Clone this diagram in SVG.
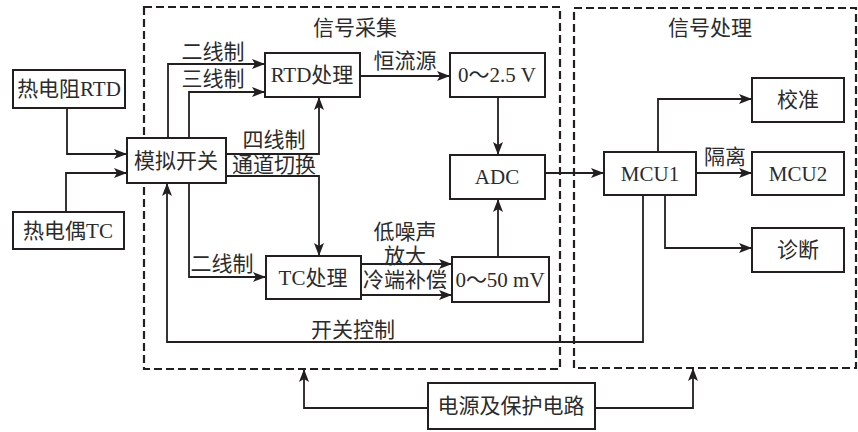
<svg xmlns="http://www.w3.org/2000/svg" width="858" height="432" viewBox="0 0 858 432">
<style>
.bx{fill:#fff;stroke:#231f20;stroke-width:2}
.dash{fill:none;stroke:#231f20;stroke-width:2.2;stroke-dasharray:8 4}
.ln{fill:none;stroke:#231f20;stroke-width:1.8;marker-end:url(#ah)}
.pl{fill:none;stroke:#231f20;stroke-width:1.8}
text{font-family:"Liberation Serif","Noto Sans CJK SC",serif;font-size:21px;fill:#2b2b2b;text-anchor:middle;dominant-baseline:central}
</style>
<defs>
<marker id="ah" markerUnits="userSpaceOnUse" markerWidth="14" markerHeight="10" refX="13" refY="5" orient="auto">
<path d="M0,0 L13,5 L0,10 L3,5 z" fill="#231f20"/>
</marker>
</defs>
<rect width="858" height="432" fill="#fff"/>
<g id="groups">
<rect class="dash" x="144" y="7" width="416" height="362"/>
<rect class="dash" x="574" y="8" width="282" height="360"/>
<text x="355" y="28">信号采集</text>
<text x="710" y="28">信号处理</text>
</g>
<g id="connectors">
<polyline class="ln" points="67,108 67,154 127,154"/>
<polyline class="ln" points="66,212 66,173 127,173"/>
<polyline class="ln" points="168,138 168,64 265,64"/>
<polyline class="ln" points="189,138 189,92 265,92"/>
<polyline class="ln" points="226,154 319,154 319,97"/>
<polyline class="ln" points="226,176 319,176 319,256"/>
<polyline class="ln" points="189,183 189,277 266,277"/>
<polyline class="ln" points="361,264 452,264"/>
<polyline class="ln" points="361,295 452,295"/>
<polyline class="ln" points="360,76 450,76"/>
<polyline class="ln" points="498,97 498,155"/>
<polyline class="ln" points="498,257 498,199"/>
<polyline class="ln" points="545,173 604,173"/>
<polyline class="ln" points="643,195 643,342 167,342 167,183"/>
<polyline class="ln" points="658,152 658,99 752,99"/>
<polyline class="ln" points="696,173 752,173"/>
<polyline class="ln" points="665,195 665,248 752,248"/>
<polyline class="ln" points="428,408 304,408 304,369"/>
<polyline class="ln" points="595,408 693,408 693,368"/>
<text x="213" y="52">二线制</text>
<text x="213" y="79">三线制</text>
<text x="405" y="61">恒流源</text>
<text x="274" y="140">四线制</text>
<text x="274" y="165">通道切换</text>
<text x="405" y="232">低噪声</text>
<text x="405" y="256">放大</text>
<text x="405" y="280">冷端补偿</text>
<text x="222" y="264">二线制</text>
<text x="353" y="330">开关控制</text>
<text x="725" y="157">隔离</text>
</g>
<g id="rtd"><rect class="bx" x="13" y="70" width="112" height="38"/><text x="69" y="89">热电阻RTD</text></g>
<g id="tc"><rect class="bx" x="13" y="212" width="111" height="37"/><text x="68" y="231">热电偶TC</text></g>
<g id="switch"><rect class="bx" x="127" y="138" width="99" height="45"/><text x="176" y="161">模拟开关</text></g>
<g id="rtdproc"><rect class="bx" x="265" y="53" width="95" height="44"/><text x="312" y="75">RTD处理</text></g>
<g id="v25"><rect class="bx" x="450" y="53" width="95" height="44"/><text x="497" y="75">0～2.5 V</text></g>
<g id="adc"><rect class="bx" x="450" y="155" width="95" height="44"/><text x="497" y="177">ADC</text></g>
<g id="tcproc"><rect class="bx" x="266" y="256" width="95" height="43"/><text x="313" y="278">TC处理</text></g>
<g id="mv50"><rect class="bx" x="452" y="257" width="97" height="45"/><text x="500" y="280">0～50 mV</text></g>
<g id="mcu1"><rect class="bx" x="604" y="152" width="92" height="43"/><text x="650" y="174">MCU1</text></g>
<g id="cal"><rect class="bx" x="752" y="78" width="92" height="44"/><text x="798" y="100">校准</text></g>
<g id="mcu2"><rect class="bx" x="752" y="152" width="92" height="43"/><text x="798" y="174">MCU2</text></g>
<g id="diag"><rect class="bx" x="752" y="228" width="92" height="44"/><text x="798" y="250">诊断</text></g>
<g id="power"><rect class="bx" x="428" y="383" width="167" height="46"/><text x="511" y="406">电源及保护电路</text></g>
</svg>
